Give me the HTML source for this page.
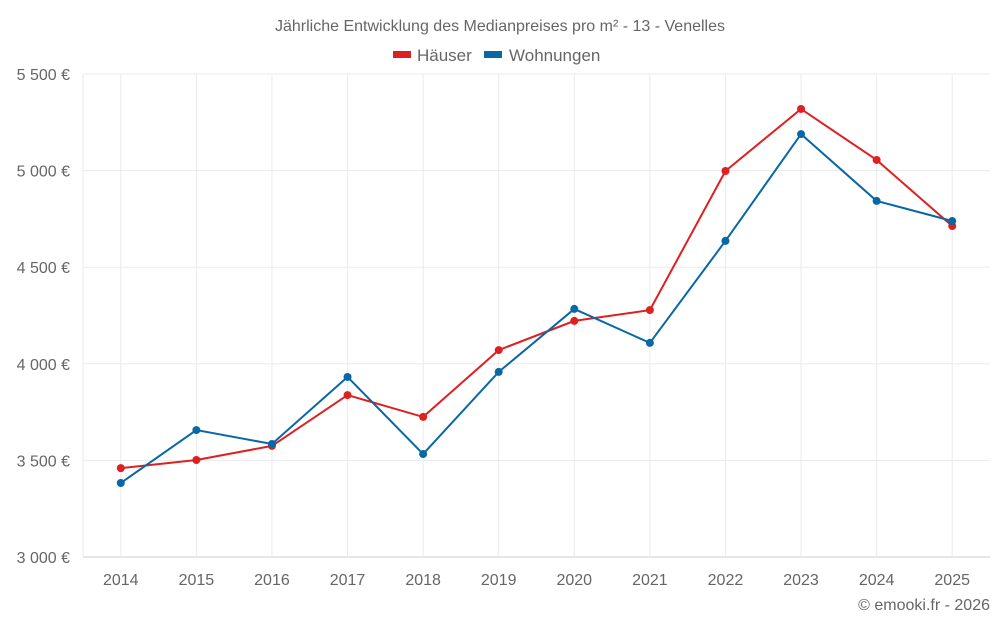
<!DOCTYPE html>
<html><head><meta charset="utf-8"><style>
body{margin:0;background:#fff;font-family:"Liberation Sans",sans-serif;}
svg text{font-family:"Liberation Sans",sans-serif;fill:#666;}
</style></head><body>
<svg id="chart" width="1000" height="625">
<text x="500" y="31" text-anchor="middle" font-size="16">Jährliche Entwicklung des Medianpreises pro m² - 13 - Venelles</text>
<g>
<rect x="393" y="51" width="18" height="7" fill="#dd2020"/>
<text x="417" y="61" font-size="17">Häuser</text>
<rect x="484" y="51" width="18" height="7" fill="#0867a5"/>
<text x="509" y="61" font-size="17">Wohnungen</text>
</g>
<g id="grid"></g>
<g id="axes"></g>
<g id="series"></g>
<text x="990" y="610" text-anchor="end" font-size="16">© emooki.fr - 2026</text>
</svg>
<script>
const years=[2014,2015,2016,2017,2018,2019,2020,2021,2022,2023,2024,2025];
const haeuser=[3460,3502,3575,3838,3725,4071,4222,4278,4998,5319,5055,4713];
const wohnungen=[3383,3657,3585,3932,3533,3958,4284,4108,4636,5189,4843,4739];
const yTicks=[3000,3500,4000,4500,5000,5500];
const yTickLabels=["3 000 €","3 500 €","4 000 €","4 500 €","5 000 €","5 500 €"];
const NS="http://www.w3.org/2000/svg";
const pL=83,pR=990,pT=74,pB=557;
const step=(pR-pL)/years.length;
function xs(i){return pL+step*(i+0.5);}
function ys(v){return pB-(v-3000)/(5500-3000)*(pB-pT);}
function mk(tag,attrs,parent){const e=document.createElementNS(NS,tag);for(const k in attrs)e.setAttribute(k,attrs[k]);parent.appendChild(e);return e;}
const grid=document.getElementById('grid'),axes=document.getElementById('axes'),series=document.getElementById('series');
yTicks.forEach((t,i)=>{
 const l=mk('line',{x1:pL,x2:pR,y1:ys(t),y2:ys(t),stroke:i==0?'#ccc':'#ebebeb','stroke-width':1},grid);
 
 
 const tx=mk('text',{x:70,y:ys(t)+6,'text-anchor':'end','font-size':16},axes);
 tx.textContent=yTickLabels[i];
 
 
});
const edge=mk('line',{x1:pL,x2:pL,y1:pT,y2:pB,stroke:'#ebebeb','stroke-width':1},grid);


years.forEach((yr,i)=>{
 const l=mk('line',{x1:xs(i),x2:xs(i),y1:pT,y2:pB,stroke:'#ebebeb','stroke-width':1},grid);
 
 
 const tx=mk('text',{x:xs(i),y:585,'text-anchor':'middle','font-size':16},axes);
 tx.textContent=yr;
 
 
});
function draw(vals,color,name){
 const p=mk('polyline',{points:vals.map((v,i)=>xs(i)+','+ys(v)).join(' '),fill:'none',stroke:color,'stroke-width':2},series);
 
 
 vals.forEach((v,i)=>{
  const c=mk('circle',{cx:xs(i),cy:ys(v),r:4,fill:color},series);
  
  
 });
}
draw(haeuser,'#dd2020','haeuser');
draw(wohnungen,'#0867a5','wohnungen');
</script>
</body></html>
